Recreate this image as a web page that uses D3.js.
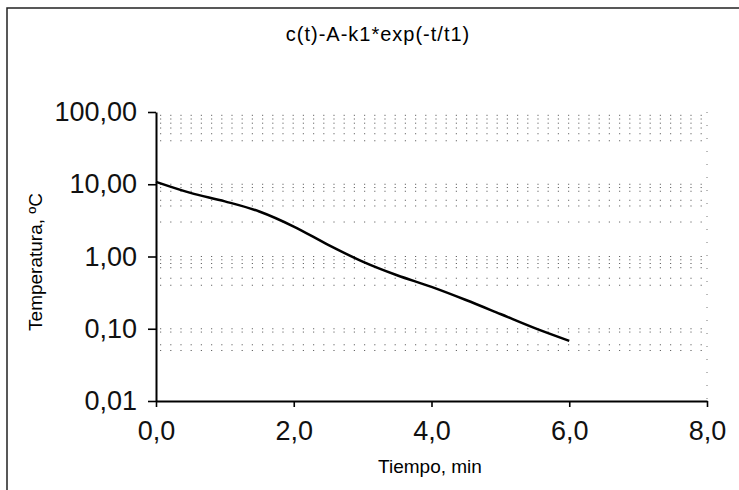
<!DOCTYPE html>
<html>
<head>
<meta charset="utf-8">
<script src="https://cdn.jsdelivr.net/npm/d3@7"></script>
<style>
  body { margin: 0; background: #fff; }
  svg { display: block; font-family: "Liberation Sans", Arial, sans-serif; }
</style>
</head>
<body>
<svg width="739" height="490"></svg>
<script>
'use strict';

// values
const tiempo = [0.0, 0.5, 1.0, 1.5, 2.0, 2.5, 3.0, 3.5, 4.0, 4.5, 5.0, 5.5, 6.0];
const temperatura = [10.8, 7.6, 5.8, 4.2, 2.6, 1.45, 0.85, 0.55, 0.38, 0.25, 0.16, 0.102, 0.068];
const xTicks = [0, 2, 4, 6, 8];
const yTicks = [0.01, 0.1, 1, 10, 100];
// dotted grid rows that survive in the scan
const gridVals = [90, 80, 70, 60, 50, 40, 10, 9, 8, 6, 5, 3, 1, 0.9, 0.8, 0.7, 0.5, 0.4, 0.1, 0.09, 0.06, 0.05];

const es = d3.formatLocale({decimal: ",", thousands: ".", grouping: [3], currency: ["", " €"]});

const svg = d3.select("svg");
const plotLeft = 156, plotRight = 707, plotTop = 112, plotBottom = 401;

const x = d3.scaleLinear().domain([0, 8]).range([plotLeft, plotRight]);
const y = d3.scaleLog().domain([0.01, 100]).range([plotBottom, plotTop]);

// outer frame
svg.append("rect")
  .attr("x", 7).attr("y", 8)
  .attr("width", 760).attr("height", 500)
  .attr("fill", "none").attr("stroke", "#222").attr("stroke-width", 1.5);

// title
svg.append("text")
  .attr("x", 378).attr("y", 41)
  .attr("text-anchor", "middle")
  .attr("font-size", 20)
  .attr("letter-spacing", 1)
  .text("c(t)-A-k1*exp(-t/t1)");

// dotted gridlines
svg.append("g")
  .selectAll("line")
  .data(gridVals)
  .join("line")
  .attr("x1", plotLeft + 4).attr("x2", plotRight)
  .attr("y1", d => y(d)).attr("y2", d => y(d))
  .attr("stroke", "#555")
  .attr("stroke-width", 0.9)
  .attr("stroke-dasharray", "1.2 9");

// dotted right edge
svg.append("line")
  .attr("x1", plotRight).attr("x2", plotRight)
  .attr("y1", plotTop).attr("y2", plotBottom)
  .attr("stroke", "#777")
  .attr("stroke-dasharray", "1 12");

// y axis
const yAxis = svg.append("g")
  .attr("transform", `translate(${plotLeft},0)`)
  .call(d3.axisLeft(y).tickValues(yTicks).tickFormat(es.format(".2f")).tickSize(8).tickPadding(11).tickSizeOuter(0));
yAxis.select(".domain").attr("stroke-width", 2);
yAxis.selectAll(".tick line").attr("stroke-width", 1.6);
yAxis.selectAll("text").attr("font-size", 27).attr("fill", "#111").attr("font-family", "Liberation Sans, Arial, sans-serif");

// x axis
const xAxis = svg.append("g")
  .attr("transform", `translate(0,${plotBottom})`)
  .call(d3.axisBottom(x).tickValues(xTicks).tickFormat(es.format(".1f")).tickSize(6).tickPadding(14).tickSizeOuter(0));
xAxis.select(".domain").attr("stroke-width", 2);
xAxis.selectAll(".tick line").attr("stroke-width", 1.6);
xAxis.selectAll("text").attr("font-size", 27).attr("fill", "#111").attr("font-family", "Liberation Sans, Arial, sans-serif");

// axis titles
svg.append("text")
  .attr("x", 430).attr("y", 473)
  .attr("text-anchor", "middle")
  .attr("font-size", 19)
  .text("Tiempo, min");

svg.append("text")
  .attr("transform", "translate(42,262) rotate(-90)")
  .attr("text-anchor", "middle")
  .attr("font-size", 19)
  .text("Temperatura, ºC");

// curve
const line = d3.line()
  .x((d, i) => x(tiempo[i]))
  .y(d => y(d))
  .curve(d3.curveMonotoneX);

svg.append("path")
  .datum(temperatura)
  .attr("d", line)
  .attr("fill", "none")
  .attr("stroke", "#000")
  .attr("stroke-width", 2.5);
</script>
</body>
</html>
